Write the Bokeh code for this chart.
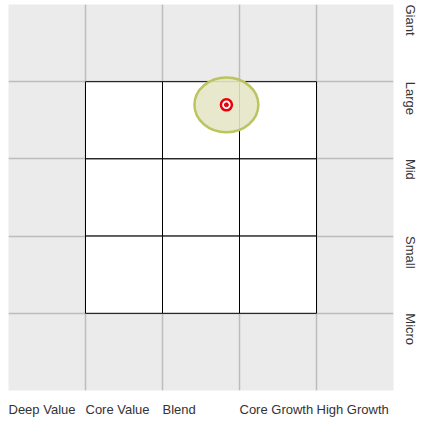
import math
from bokeh.plotting import figure
from bokeh.models import FixedTicker
from bokeh.embed import file_html
from bokeh.resources import INLINE

# Data
styles = ["Deep Value", "Core Value", "Blend", "Core Growth", "High Growth"]
sizes = ["Giant", "Large", "Mid", "Small", "Micro"]
style_ticks = [0, 1, 2, 3, 4]
size_ticks = [5, 4, 3, 2, 1]

cell_left = [1, 2, 3, 1, 2, 3, 1, 2, 3]
cell_right = [2, 3, 4, 2, 3, 4, 2, 3, 4]
cell_bottom = [3, 3, 3, 2, 2, 2, 1, 1, 1]
cell_top = [4, 4, 4, 3, 3, 3, 2, 2, 2]

zone_x = [2.83]
zone_y = [3.70]
zone_w = [0.83]
zone_h = [0.71]
centroid_x = [2.83]
centroid_y = [3.70]

p = figure(frame_width=385, frame_height=386, x_range=(0, 5), y_range=(0, 5),
           output_backend="svg", toolbar_location=None, y_axis_location="right",
           min_border_left=8, min_border_top=4, min_border_right=0, min_border_bottom=0)
p.outline_line_color = None
p.background_fill_color = "#ebebeb"
p.border_fill_color = "white"

for g in (p.xgrid, p.ygrid):
    g.grid_line_color = "#bcbcbc"
    g.grid_line_width = 1.5
p.xgrid.ticker = FixedTicker(ticks=[1, 2, 3, 4])
p.ygrid.ticker = FixedTicker(ticks=[1, 2, 3, 4])

p.quad(left=cell_left, right=cell_right, bottom=cell_bottom, top=cell_top,
       fill_color="white", line_color="black", line_width=1)

p.ellipse(x=zone_x, y=zone_y, width=zone_w, height=zone_h,
          fill_color="#e4e6c6", fill_alpha=0.9, line_color="#bcc45e", line_width=2.5)
p.scatter(x=centroid_x, y=centroid_y, size=11, marker="circle",
          fill_color="white", line_color="#e8000b", line_width=2.5)
p.scatter(x=centroid_x, y=centroid_y, size=4, marker="circle",
          fill_color="#e8000b", line_color="#e8000b")

xa = p.xaxis[0]
xa.ticker = FixedTicker(ticks=style_ticks)
xa.major_label_overrides = {t: s for t, s in zip(style_ticks, styles)}
xa.major_label_orientation = -1e-4
xa.major_label_standoff = 13

ya = p.yaxis[0]
ya.ticker = FixedTicker(ticks=size_ticks)
ya.major_label_overrides = {t: s for t, s in zip(size_ticks, sizes)}
ya.major_label_orientation = -math.pi / 2
ya.major_label_standoff = 11

for ax in (xa, ya):
    ax.axis_line_color = None
    ax.major_tick_line_color = None
    ax.minor_tick_line_color = None
    ax.major_label_text_font = "Liberation Sans"
    ax.major_label_text_font_size = "13px"
    ax.major_label_text_color = "#333333"

open("out.html", "w").write(file_html(p, INLINE))
